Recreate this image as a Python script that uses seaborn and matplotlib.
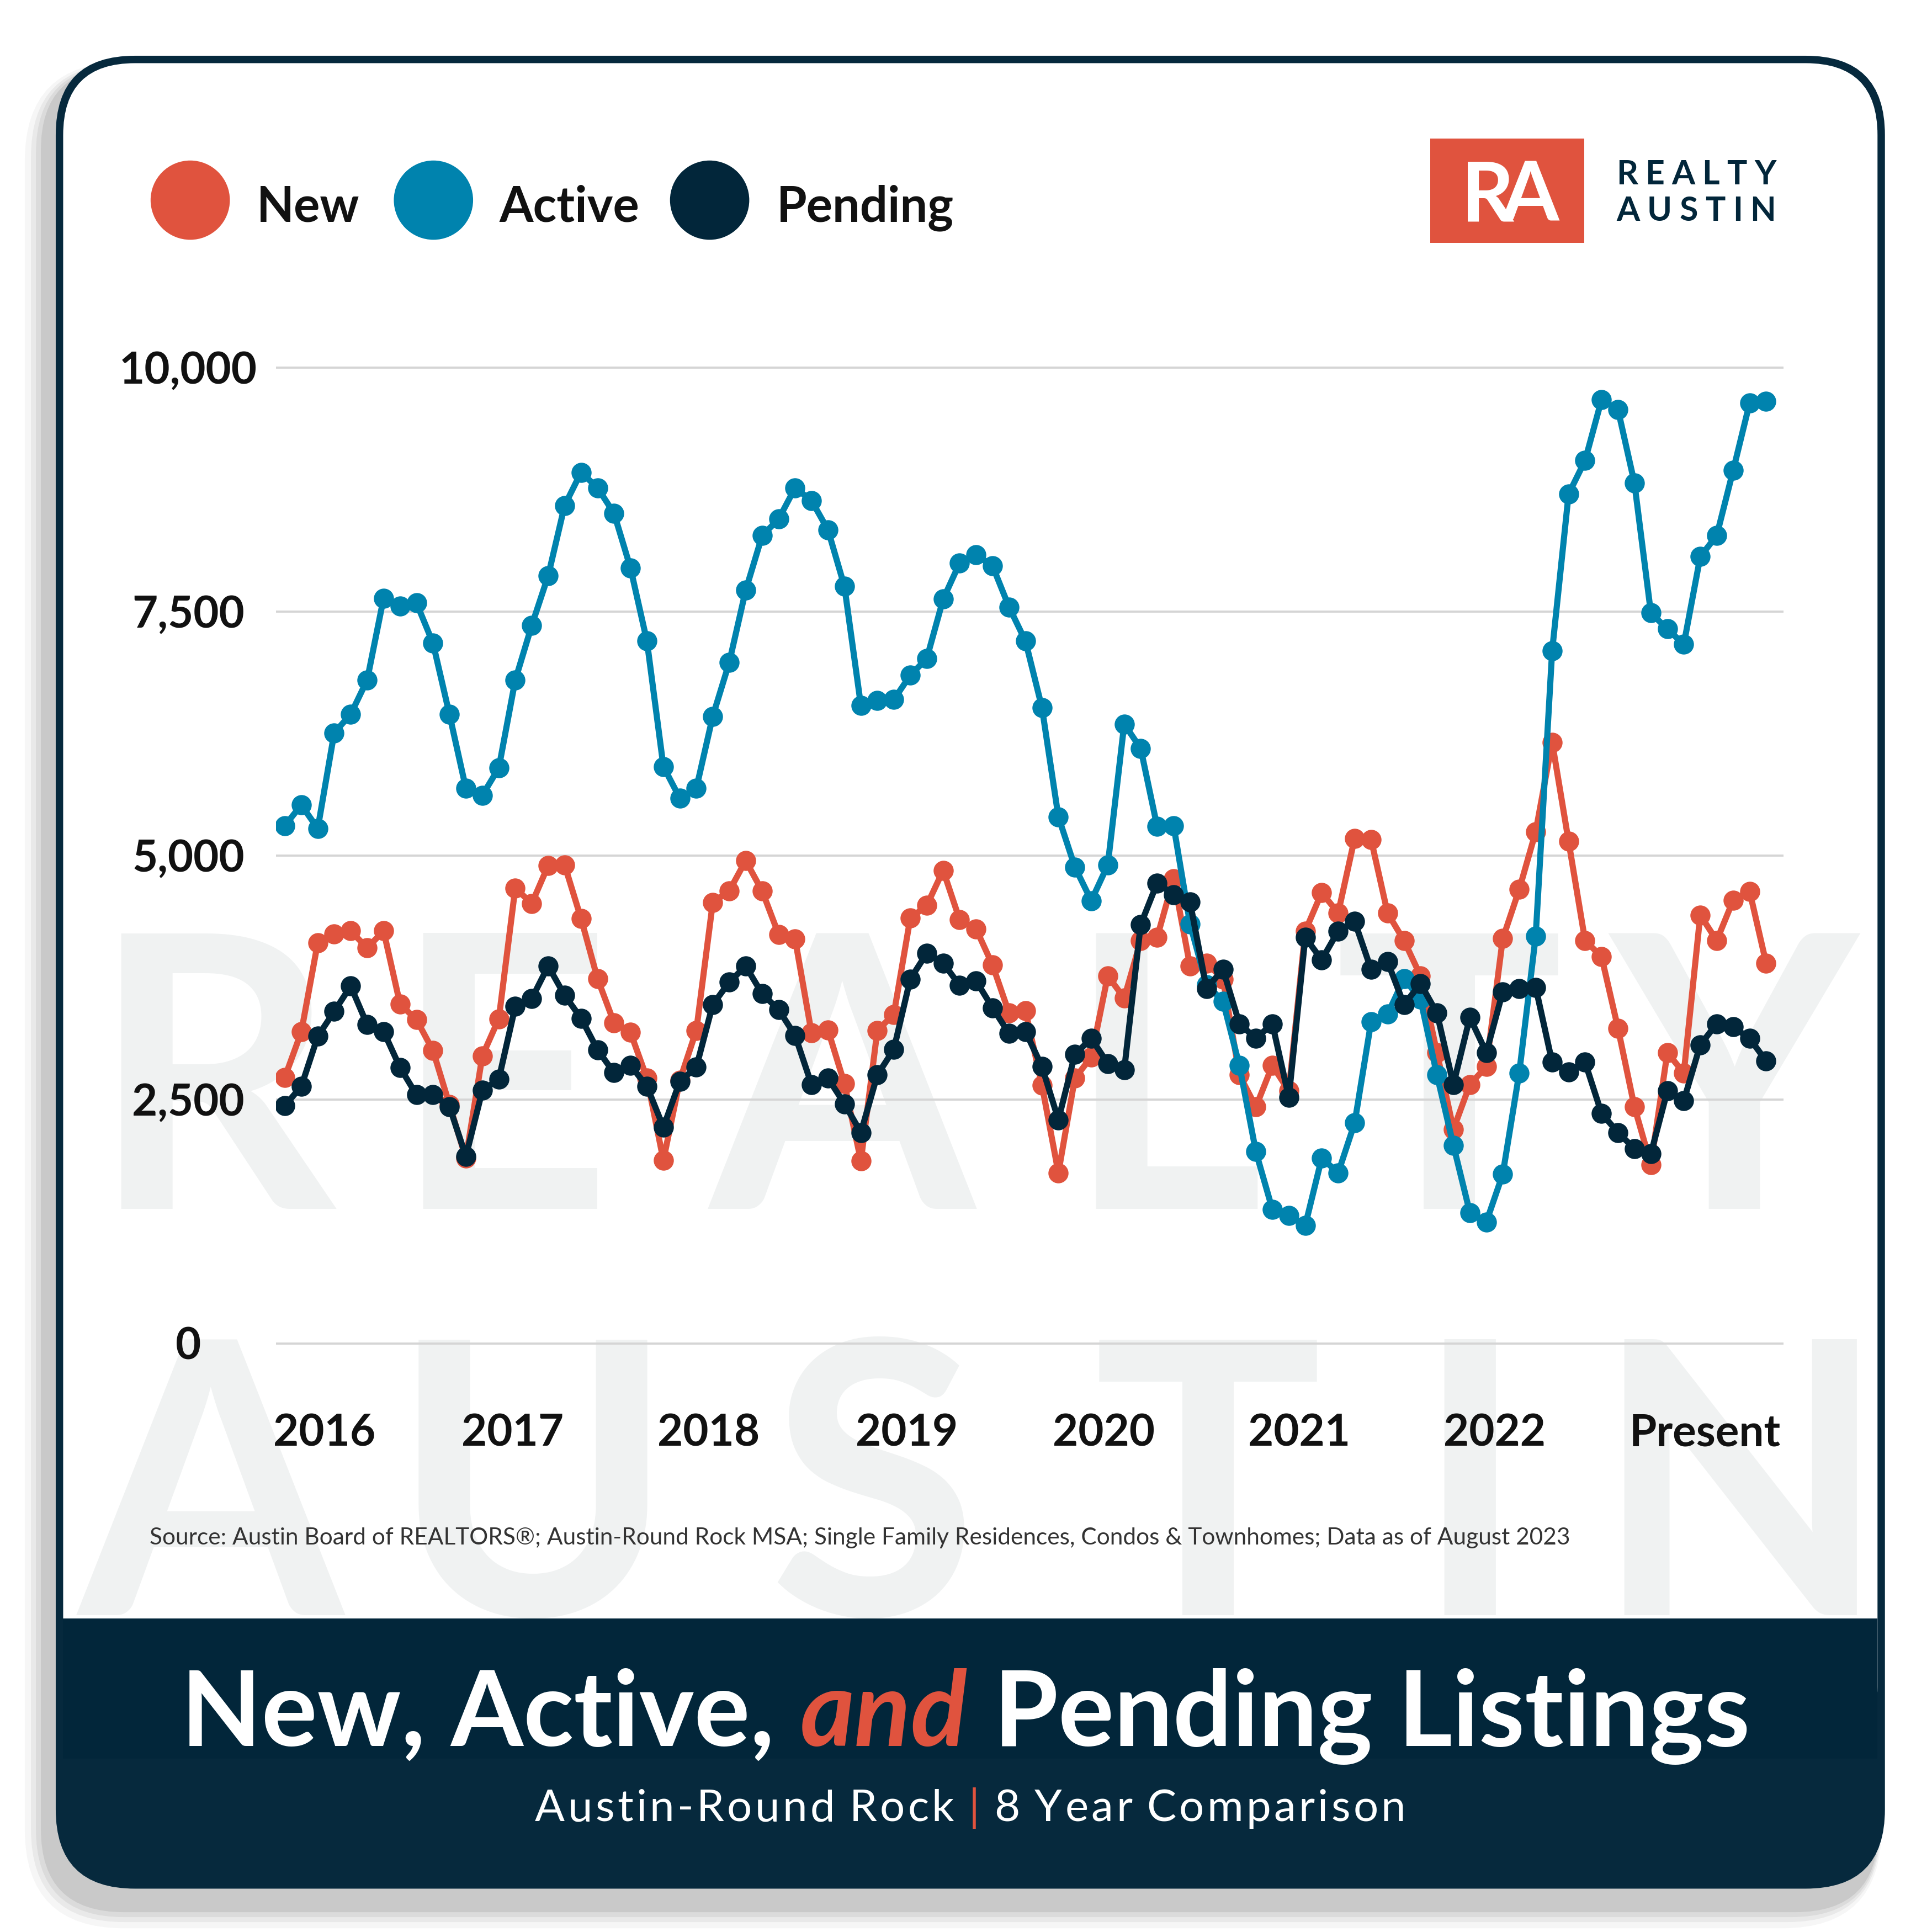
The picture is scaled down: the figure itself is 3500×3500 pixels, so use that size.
import numpy as np
import pandas as pd
import matplotlib
matplotlib.use("Agg")
import matplotlib.pyplot as plt
import matplotlib.transforms as mtransforms
import seaborn as sns
from matplotlib.patches import FancyBboxPatch, Rectangle, Circle
from matplotlib.font_manager import FontProperties

# ---------------- data (monthly, Jan 2016 - Jul 2023) ----------------
new_listings = [
    2730, 3195, 4110, 4200, 4230, 4055, 4230, 3480, 3320, 3005, 2450, 1900,
    2950, 3330, 4670, 4510, 4900, 4905, 4355, 3740, 3290, 3190, 2720, 1880,
    2700, 3210, 4520, 4640, 4950, 4640, 4195, 4150, 3185, 3215, 2665, 1875,
    3210, 3375, 4360, 4490, 4850, 4345, 4250, 3880, 3390, 3410, 2650, 1751,
    2721, 2937, 3770, 3541, 4131, 4164, 4767, 3869, 3901, 3737, 2754, 2426,
    2852, 2590, 4229, 4623, 4413, 5180, 5167, 4413, 4131, 3770, 2983, 2197,
    2656, 2839, 4151, 4655, 5246, 6164, 5147, 4131, 3967, 3233, 2426, 1836,
    2983, 2774, 4393, 4131, 4544, 4636, 3901,
]
active_listings = [
    5310, 5520, 5280, 6260, 6450, 6800, 7640, 7560, 7590, 7180, 6450, 5690,
    5620, 5900, 6800, 7360, 7870, 8590, 8930, 8770, 8510, 7950, 7200, 5915,
    5590, 5690, 6430, 6980, 7720, 8280, 8450, 8770, 8640, 8340, 7760, 6540,
    6590, 6600, 6850, 7020, 7630, 8000, 8085, 7970, 7550, 7200, 6520, 5400,
    4885, 4540, 4905, 6350, 6100, 5300, 5310, 4300, 3680, 3510, 2850, 1967,
    1377, 1311, 1213, 1902, 1751, 2262, 3298, 3377, 3740, 3530, 2754, 2033,
    1344, 1246, 1738, 2774, 4177, 7100, 8708, 9050, 9672, 9573, 8820, 7488,
    7324, 7167, 8065, 8282, 8950, 9640, 9660,
]
pending_listings = [
    2440, 2636, 3150, 3405, 3665, 3270, 3200, 2830, 2550, 2550, 2430, 1920,
    2595, 2712, 3455, 3535, 3870, 3570, 3335, 3012, 2776, 2853, 2638, 2218,
    2688, 2833, 3475, 3705, 3869, 3587, 3423, 3160, 2656, 2721, 2459, 2164,
    2754, 3016, 3737, 4000, 3901, 3672, 3718, 3442, 3180, 3200, 2840, 2295,
    2964, 3128, 2872, 2806, 4295, 4721, 4603, 4524, 3639, 3836, 3279, 3128,
    3279, 2524, 4164, 3934, 4229, 4328, 3836, 3915, 3475, 3690, 3390, 2656,
    3344, 2983, 3606, 3639, 3652, 2885, 2787, 2885, 2361, 2164, 2000, 1947,
    2590, 2492, 3062, 3279, 3246, 3128, 2898,
]
series_names = ["New", "Active", "Pending"]
x_tick_labels = ["2016", "2017", "2018", "2019", "2020", "2021", "2022", "Present"]
y_tick_values = [0, 2500, 5000, 7500, 10000]
y_tick_labels = ["0", "2,500", "5,000", "7,500", "10,000"]
title_parts = ["New, Active,", "and", "Pending Listings"]
subtitle_text = "Austin-Round Rock | 8 Year Comparison"
source_text = ("Source: Austin Board of REALTORS\u00ae; Austin-Round Rock MSA; Single Family "
               "Residences, Condos & Townhomes; Data as of August 2023")

# ---------------- style ----------------
RED = "#e0533e"
BLUE = "#0083ae"
NAVY = "#02263a"
TEXT = "#111111"
palette = [RED, BLUE, NAVY]

sns.set_theme(style="white")
plt.rcParams["font.family"] = ["Lato", "DejaVu Sans"]

W = 1560.0                 # design units across the canvas
PT = 14 * 72 / W           # points per design unit
S = 3500 / W               # output pixels per design unit

fig = plt.figure(figsize=(14, 14), dpi=250)
fig.patch.set_facecolor("white")
R = fig.canvas.get_renderer()


def rbox(l, t, r, b, rad, **kw):
    return FancyBboxPatch((l / W, 1 - b / W), (r - l) / W, (b - t) / W,
                          boxstyle=f"round,pad=0,rounding_size={rad / W}",
                          transform=fig.transFigure, **kw)


def ftext(x, y, s, **kw):
    return fig.text(x / W, 1 - y / W, s, **kw)


def ink_width(s, fp):
    t = fig.text(0, 0, s, fontproperties=fp)
    w = t.get_window_extent(renderer=R).width / S
    t.remove()
    return w


def tracked(s, left, base, fp, target_w, colors=None, z=6, space_em=0.22):
    size_u = fp.get_size_in_points() / PT
    widths = [space_em * size_u if c == " " else ink_width(c, fp) for c in s]
    gap = (target_w - sum(widths)) / (len(s) - 1)
    x = left
    for c, w in zip(s, widths):
        if c != " ":
            col = colors.get(c, colors["default"]) if colors else NAVY
            ftext(x, base, c, fontproperties=fp, color=col, ha="left",
                  va="baseline", zorder=z)
        x += w + gap


# ---------------- card, shadow, band ----------------
for grow, alpha in [(16, 0.035), (11, 0.05), (7, 0.06), (3, 0.08)]:
    fig.add_artist(rbox(45 - 9 - grow, 45 + 10 - grow * 0.3, 1522 - 6 + grow * 0.2,
                        1525 + 16 + grow, 64 + grow, fc="black", ec="none",
                        alpha=alpha, zorder=0.2))
fig.add_artist(rbox(45, 45, 1522, 1525, 64, fc="#06293d", ec="none", zorder=1))
white_panel = rbox(51, 51, 1516, 1420, 58, fc="white", ec="none", zorder=1.1)
fig.add_artist(white_panel)

# watermark
wm_fp = FontProperties(family="Lato", weight="bold", size=199)
for ch, cx in zip("REALTY", [172, 405, 680, 940, 1170, 1400]):
    t = ftext(cx, 976, ch, fontproperties=wm_fp, color="#f0f2f2", ha="center",
              va="baseline", zorder=1.2)
    t.set_clip_path(white_panel)
for ch, cx in zip("AUSTIN", [170, 430, 705, 975, 1187, 1405]):
    t = ftext(cx, 1304, ch, fontproperties=wm_fp, color="#f0f2f2", ha="center",
              va="baseline", zorder=1.2)
    t.set_clip_path(white_panel)

fig.add_artist(Rectangle((51 / W, 1 - 1420 / W), (1516 - 51) / W, (1420 - 1307) / W,
                         transform=fig.transFigure, fc=NAVY, ec="none", zorder=1.3))

# ---------------- chart ----------------
months = np.arange(len(new_listings))
df = pd.concat([
    pd.DataFrame({"month": months, "value": new_listings, "series": "New"}),
    pd.DataFrame({"month": months, "value": active_listings, "series": "Active"}),
    pd.DataFrame({"month": months, "value": pending_listings, "series": "Pending"}),
], ignore_index=True)

ax_top, ax_bot = 273.4, 1108.6
ax = fig.add_axes([223 / W, 1 - ax_bot / W, 1217 / W, (ax_bot - ax_top) / W])
ax.set_zorder(3)
ax.patch.set_alpha(0)

sns.lineplot(data=df, x="month", y="value", hue="series", hue_order=series_names,
             palette=palette, marker="o", markersize=10.5, markeredgewidth=0,
             linewidth=3.2, legend=False, ax=ax)

ax.set_xlim(-0.527, 91.05)
ax.set_ylim(-300, 10300)
ax.set_yticks(y_tick_values)
ax.set_yticklabels([])
ax.set_xticks([])
ax.tick_params(length=0)
ax.grid(axis="y", color="#d5d5d5", linewidth=1.1)
ax.grid(axis="x", visible=False)
for sp in ax.spines.values():
    sp.set_visible(False)
ax.set_xlabel("")
ax.set_ylabel("")

tick_fp = FontProperties(family="Lato", weight="bold", size=23)
ytrans = mtransforms.offset_copy(
    mtransforms.blended_transform_factory(ax.transAxes, ax.transData),
    fig=fig, y=-12.8 * PT, units="points")
for v, lab in zip(y_tick_values, y_tick_labels):
    ax.text((152 - 223) / 1217, v, lab, transform=ytrans, ha="center",
            va="baseline", fontproperties=tick_fp, color=TEXT, clip_on=False)

xpos = [2.41, 13.84, 25.73, 37.77, 49.74, 61.63, 73.51, 86.3]
xtrans = mtransforms.blended_transform_factory(ax.transData, ax.transAxes)
for p, lab in zip(xpos, x_tick_labels):
    ax.text(p, -(1167.6 - ax_bot) / (ax_bot - ax_top), lab, transform=xtrans,
            ha="center", va="baseline", fontproperties=tick_fp, color=TEXT,
            clip_on=False)

# ---------------- legend ----------------
leg_fp = FontProperties(family="Lato", weight="bold", size=25.5)
for name, col, cx, tx in zip(series_names, palette, [153.6, 350, 573], [207, 403, 627]):
    fig.add_artist(Circle((cx / W, 1 - 161.6 / W), 32 / W, transform=fig.transFigure,
                          fc=col, ec="none", zorder=5))
    ftext(tx, 179, name, fontproperties=leg_fp, color=TEXT, ha="left",
          va="baseline", zorder=5)

# ---------------- logo ----------------
fig.add_artist(Rectangle((1155 / W, 1 - 196 / W), 124 / W, 84 / W,
                         transform=fig.transFigure, fc=RED, ec="none", zorder=5))
ra_fp = FontProperties(family="Lato", weight="bold", size=43)
ftext(1180, 178.3, "R", fontproperties=ra_fp, color="white", ha="left",
      va="baseline", zorder=6)
ftext(1259, 178.3, "A", fontproperties=ra_fp, color="white", ha="right",
      va="baseline", zorder=6)
brand_fp = FontProperties(family="Lato", weight="bold", size=17.5)
tracked("REALTY", 1305, 148.8, brand_fp, 129)
tracked("AUSTIN", 1305, 178.3, brand_fp, 129)

# ---------------- source ----------------
ftext(121, 1247, source_text, fontproperties=FontProperties(family="Lato", size=12.2),
      color="#333333", ha="left", va="baseline", zorder=6)

# ---------------- title ----------------
base_size = 56.0
fp_w = FontProperties(family="Lato", weight="bold", size=base_size)
fp_i = FontProperties(family="Lato", weight="bold", style="italic", size=base_size)
w1 = ink_width(title_parts[0], fp_w)
w2 = ink_width(title_parts[1], fp_i)
w3 = ink_width(title_parts[2], fp_w)
sp = 0.25 * base_size / PT
total = w1 + w2 + w3 + 2 * sp
k = 1267.0 / total
size = base_size * k
fp_w.set_size(size)
fp_i.set_size(size)
w1, w2, sp = w1 * k, w2 * k, sp * k
x0 = 146
ftext(x0, 1409.6, title_parts[0], fontproperties=fp_w, color="white", ha="left",
      va="baseline", zorder=6)
ftext(x0 + w1 + sp, 1409.6, title_parts[1], fontproperties=fp_i, color=RED,
      ha="left", va="baseline", zorder=6)
ftext(x0 + w1 + sp + w2 + sp, 1409.6, title_parts[2], fontproperties=fp_w,
      color="white", ha="left", va="baseline", zorder=6)

sub_fp = FontProperties(family="Lato", size=23)
tracked(subtitle_text, 432, 1470.6, sub_fp, 703,
        colors={"|": RED, "default": "white"}, space_em=0.2)

fig.savefig("out.png", dpi=250, facecolor="white")
